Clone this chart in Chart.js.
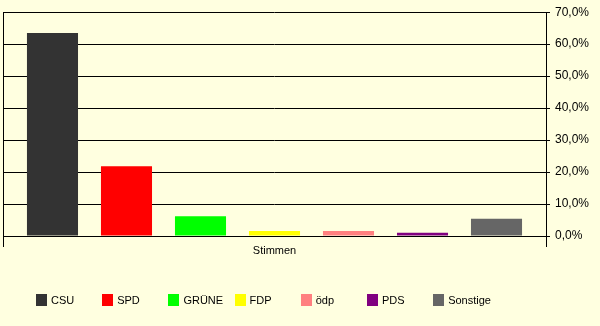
<!DOCTYPE html>
<html>
<head>
<meta charset="utf-8">
<script src="https://cdn.jsdelivr.net/npm/chart.js@4/dist/chart.umd.min.js"></script>
<style>
  body { margin: 0; background: #FFFFE0; }
  #wrap { position: relative; width: 600px; height: 326px; background: #FFFFE0; }
  #legende { position: absolute; left: 36px; top: 294px; height: 12px; display: flex;
             font-family: "Liberation Sans", Arial, sans-serif; font-size: 11px; color: #000; }
  .item { width: 66.2px; display: flex; align-items: center; height: 12px; }
  .box { width: 11px; height: 12px; margin-right: 4px; flex: none; }
</style>
</head>
<body>
<div id="wrap">
  <canvas id="chartStimmen" width="600" height="326"></canvas>
  <div id="legende"></div>
</div>
<script>
const kategorien = ["Stimmen"];
const parteien = ["CSU", "SPD", "GRÜNE", "FDP", "ödp", "PDS", "Sonstige"];
const werte = [63.5, 21.8, 6.2, 1.6, 1.6, 1.0, 5.4];
const farben = ["#333333", "#FF0000", "#00FF00", "#FFFF00", "#FF8080", "#800080", "#666666"];
const yTicks = [0, 10, 20, 30, 40, 50, 60, 70];

function prozent(v) {
  return v.toFixed(1).replace(".", ",") + "%";
}

const datasets = [];
for (var i = 0; i < parteien.length; i++) {
  datasets.push({
    label: parteien[i],
    data: [werte[i]],
    backgroundColor: farben[i],
    borderWidth: 0,
    categoryPercentage: 0.954,
    barPercentage: 0.69
  });
}

// legende als html, feste abstaende wie im original
const leg = document.getElementById("legende");
for (var j = 0; j < parteien.length; j++) {
  const it = document.createElement("div");
  it.className = "item";
  it.innerHTML = '<span class="box" style="background:' + farben[j] + '"></span><span>' + parteien[j] + '</span>';
  leg.appendChild(it);
}

const config = {
  type: "bar",
  data: { labels: kategorien, datasets: datasets },
  options: {
    responsive: false,
    animation: false,
    layout: { padding: { left: 3, right: 0, top: 10, bottom: 70 } },
    plugins: { legend: { display: false }, tooltip: { enabled: false } },
    scales: {
      x: {
        grid: { color: "#000", lineWidth: 1, offset: true, tickLength: 11 },
        border: { color: "#000" },
        ticks: { color: "#000", padding: -3, font: { family: "Liberation Sans", size: 11 } },
        afterFit: function (s) { s.height = 20; }
      },
      y: {
        position: "right",
        min: 0,
        max: 70,
        afterBuildTicks: function (s) { s.ticks = yTicks.map(function (v) { return { value: v }; }); },
        grid: { color: "#000", lineWidth: 1, tickLength: 4 },
        border: { color: "#000" },
        ticks: {
          color: "#000",
          padding: 5,
          font: { family: "Liberation Sans", size: 12 },
          callback: function (v) { return prozent(v); }
        },
        afterFit: function (s) { s.width = 54; }
      }
    }
  }
};

new Chart(document.getElementById("chartStimmen"), config);
</script>
</body>
</html>
